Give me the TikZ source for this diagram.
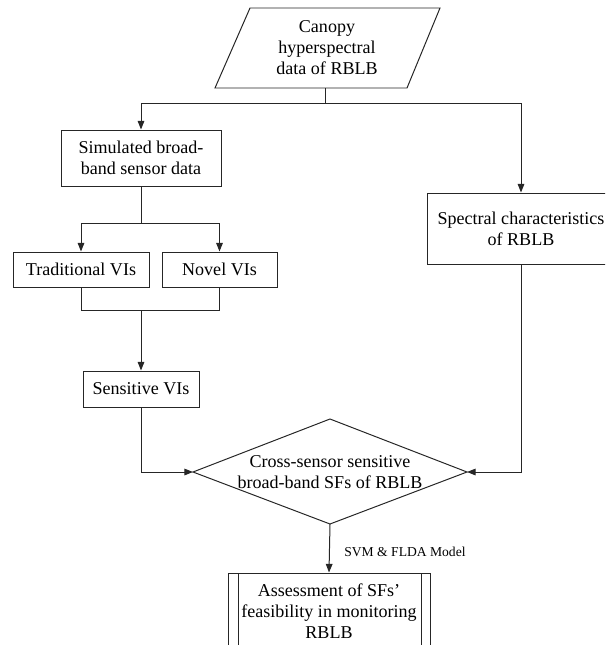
\documentclass[tikz,border=0pt]{standalone}
\usepackage{fontspec}
\setmainfont{Liberation Serif}
\usetikzlibrary{arrows.meta}
\tikzset{
  box/.style={draw=black!85, line width=0.85pt, rectangle, inner sep=0pt, align=center},
  txt/.style={align=center, inner sep=0pt, font=\fontsize{15.4}{18}\selectfont},
  line/.style={line width=0.85pt, draw=black!85},
  arr/.style={line, -{Triangle[length=2.6mm,width=2mm]}},
}
\begin{document}
\begin{tikzpicture}[x=0.03cm,y=-0.03cm]
\useasboundingbox (0,0) rectangle (605,645);
\clip (0,0) rectangle (605,645);
% parallelogram
\draw[line] (215,88) -- (250,8) -- (440,8) -- (407,88) -- cycle;
\node[txt] (canopy) at (327,48) {Canopy\\hyperspectral\\data of RBLB};
\coordinate (canopyb) at (325,88);
\coordinate (split) at (325,103);
% boxes
\node[box, txt, minimum width=160*0.03cm, minimum height=56*0.03cm] (sim) at (141,158) {Simulated broad-\\band sensor data};
\node[box, txt, minimum width=136*0.03cm, minimum height=35*0.03cm] (trad) at (81,269.5) {Traditional VIs};
\node[box, txt, minimum width=115*0.03cm, minimum height=35*0.03cm] (novel) at (219.5,269.5) {Novel VIs};
\node[box, txt, minimum width=116*0.03cm, minimum height=36*0.03cm] (sens) at (141,389) {Sensitive VIs};
\node[box, txt, minimum width=188*0.03cm, minimum height=71*0.03cm] (spec) at (521,228.5) {Spectral characteristics\\of RBLB};
% diamond
\draw[line] (193,472) -- (330,419) -- (467,472) -- (330,524) -- cycle;
\node[txt] (cross) at (330,472) {Cross-sensor sensitive\\broad-band SFs of RBLB};
\coordinate (dl) at (193,472);
\coordinate (dr) at (467,472);
\coordinate (db) at (330,524);
% assessment (double-sided box)
\node[box, txt, minimum width=202*0.03cm, minimum height=76*0.03cm] (assess) at (329,611) {Assessment of SFs'\\feasibility in monitoring\\RBLB};
\draw[line] (238,573) -- (238,649) (421,573) -- (421,649);
% connectors
\draw[line] (canopyb) -- (split);
\draw[arr] (split) -| (sim.north);
\draw[arr] (split) -| (spec.north);
\coordinate (s2) at (141,223);
\draw[line] (sim.south) -- (s2);
\draw[arr] (s2) -| (trad.north);
\draw[arr] (s2) -| (novel.north);
\coordinate (m2) at (141,310);
\draw[line] (trad.south) |- (m2);
\draw[line] (novel.south) |- (m2);
\draw[arr] (m2) -- (sens.north);
\draw[arr] (sens.south) |- (dl);
\draw[arr] (spec.south) |- (dr);
\draw[arr] (db) -- (assess.north) node[pos=0.57, anchor=west, xshift=9pt, font=\fontsize{11.6}{13}\selectfont] {SVM \& FLDA Model};
\end{tikzpicture}
\end{document}
